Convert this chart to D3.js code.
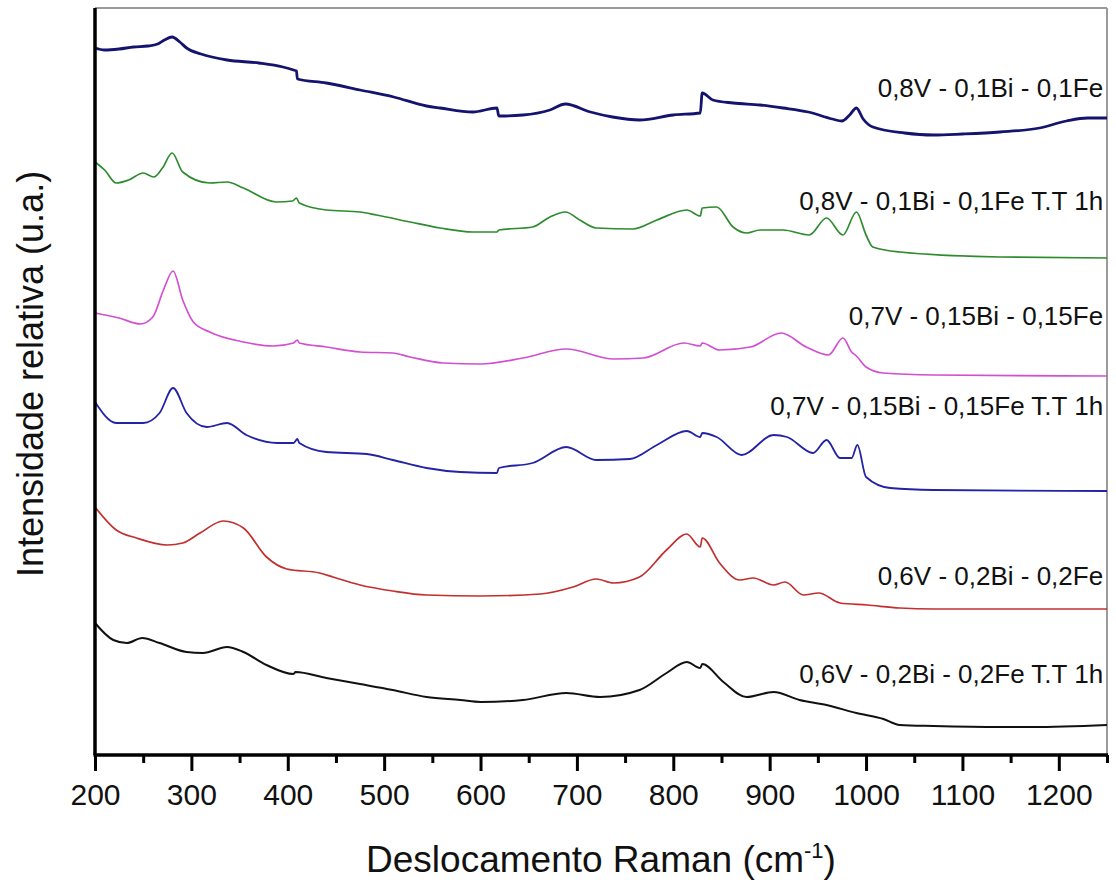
<!DOCTYPE html>
<html>
<head>
<meta charset="utf-8">
<script src="https://cdn.jsdelivr.net/npm/d3@7"></script>
<style>
  body { margin: 0; background: #fff; }
  text { font-family: "Liberation Sans", Arial, sans-serif; }
</style>
</head>
<body>
<svg id="chart" width="1116" height="882"></svg>
<script>
// Raman spectra, [wavenumber, intensity (a.u., stacked offset)]
var v08 = [[200,707],[210,705],[225,706],[240,708],[255,709],[265,711],[272,715],[280,718],[288,713],[295,707],[310,701],[337,695],[370,692],[395,688],[406,685],[409,684],[410,676],[440,672],[475,665],[510,658],[544,649],[558,647],[592,643],[617,647],[619,639],[644,640],[672,645],[688,651],[714,643],[737,638],[765,635],[800,640],[828,642],[830,662],[841,655],[862,652],[890,650],[914,647],[940,643],[965,636],[975,634],[983,640],[990,647],[997,636],[1007,628],[1040,622],[1070,620],[1100,621],[1139,623],[1180,627],[1208,634],[1230,637],[1250,637]];
var v08tt = [[200,593],[210,585],[222,572],[235,575],[250,582],[261,578],[270,587],[280,602],[291,583],[319,572],[337,573],[354,567],[388,553],[405,554],[409,557],[412,552],[440,545],[475,543],[492,540],[527,533],[558,527],[592,523],[617,523],[619,525],[654,528],[672,538],[688,543],[703,535],[720,527],[758,526],[783,535],[814,545],[828,539],[830,547],[845,548],[862,528],[876,522],[890,525],[914,525],[941,520],[959,537],[976,520],[990,543],[1000,520],[1007,508],[1035,503],[1139,498],[1250,497]];
var v07 = [[200,442],[225,437],[247,431],[260,438],[271,465],[281,484],[291,455],[302,433],[319,423],[354,413],[385,409],[406,412],[410,415],[412,412],[440,408],[475,403],[509,402],[527,398],[561,392],[600,391],[644,397],[689,406],[738,396],[769,397],[811,412],[828,409],[830,412],[848,405],[880,408],[912,422],[938,408],[961,400],[976,417],[985,403],[990,399],[1000,388],[1018,382],[1070,380],[1250,379]];
var v07tt = [[200,353],[222,332],[250,332],[267,342],[281,367],[295,342],[316,328],[337,332],[357,320],[389,312],[406,312],[410,316],[412,312],[440,303],[482,301],[509,295],[544,287],[579,283],[617,282],[619,287],[654,292],[689,308],[720,295],[755,296],[783,310],[814,324],[828,318],[830,322],[845,318],[871,300],[904,320],[918,318],[945,302],[959,315],[973,297],[985,297],[991,310],[1000,278],[1025,267],[1070,265],[1250,264]];
var v06 = [[200,248],[222,225],[243,217],[275,210],[291,212],[309,222],[333,234],[354,227],[378,198],[399,186],[433,182],[447,178],[475,170],[509,164],[544,160],[600,159],[662,161],[696,168],[720,176],[738,172],[765,178],[793,205],[814,221],[828,208],[830,217],[848,192],[869,175],[883,177],[904,170],[916,173],[935,160],[951,162],[973,152],[1001,150],[1035,147],[1070,146],[1250,146]];
var v06tt = [[200,132],[219,115],[233,112],[249,117],[267,112],[295,103],[312,102],[337,108],[354,103],[378,90],[406,81],[408,83],[440,77],[475,71],[509,65],[544,58],[579,55],[600,53],[644,55],[689,62],[724,58],[765,65],[793,82],[814,93],[828,87],[830,91],[852,73],[876,58],[904,63],[931,55],[959,50],[990,42],[1018,36],[1035,30],[1070,29],[1139,28],[1173,28],[1250,30]];

var seriesNames = ["0,8V - 0,1Bi - 0,1Fe", "0,8V - 0,1Bi - 0,1Fe T.T 1h", "0,7V - 0,15Bi - 0,15Fe",
                   "0,7V - 0,15Bi - 0,15Fe T.T 1h", "0,6V - 0,2Bi - 0,2Fe", "0,6V - 0,2Bi - 0,2Fe T.T 1h"];
var seriesColors = ["#14146e", "#2e8b2e", "#d24fd2", "#2323a6", "#c22f2f", "#111111"];
// label baseline positions (intensity units)
var labelLevels = [658, 545, 430, 340, 170, 72];
var xTicks = [200, 300, 400, 500, 600, 700, 800, 900, 1000, 1100, 1200];
var xMinorTicks = [250, 350, 450, 550, 650, 750, 850, 950, 1050, 1150, 1250];

var allData = [v08, v08tt, v07, v07tt, v06, v06tt];

var margin = {top: 8, right: 9, bottom: 127, left: 95};
var width = 1116, height = 882;
var chartW = width - margin.left - margin.right;
var chartH = height - margin.top - margin.bottom;

var svg = d3.select("#chart");

var x = d3.scaleLinear().domain([200, 1250]).range([margin.left, margin.left + chartW]);
var y = d3.scaleLinear().domain([0, 747]).range([margin.top + chartH, margin.top]);

// top and right frame (thin grey)
svg.append("line")
  .attr("x1", margin.left).attr("x2", margin.left + chartW)
  .attr("y1", margin.top).attr("y2", margin.top)
  .attr("stroke", "#9a9a9a").attr("stroke-width", 2);
svg.append("line")
  .attr("x1", margin.left + chartW).attr("x2", margin.left + chartW)
  .attr("y1", margin.top).attr("y2", margin.top + chartH)
  .attr("stroke", "#9a9a9a").attr("stroke-width", 2);

var line = d3.line()
  .x(function(d) { return x(d[0]); })
  .y(function(d) { return y(d[1]); })
  .curve(d3.curveMonotoneX);

// noisy traces drawn a bit heavier
var widths = [2.8, 1.7, 1.7, 1.8, 1.7, 2];

svg.append("g").selectAll("path")
  .data(allData)
  .enter().append("path")
  .attr("d", line)
  .attr("fill", "none")
  .attr("stroke", function(d, i) { return seriesColors[i]; })
  .attr("stroke-width", function(d, i) { return widths[i]; })
  .attr("stroke-linejoin", "round");

svg.append("g").selectAll("text")
  .data(seriesNames)
  .enter().append("text")
  .attr("x", x(1246))
  .attr("y", function(d, i) { return y(labelLevels[i]); })
  .attr("text-anchor", "end")
  .attr("font-size", 26)
  .attr("fill", "#111")
  .text(function(d) { return d; });

// x axis
var xAxis = d3.axisBottom(x).tickValues(xTicks).tickSize(16).tickPadding(13)
  .tickFormat(d3.format("d"));
var gx = svg.append("g")
  .attr("transform", "translate(0," + (margin.top + chartH) + ")")
  .call(xAxis);
gx.select(".domain").remove();
gx.selectAll(".tick line").attr("stroke", "#000").attr("stroke-width", 3);
gx.selectAll(".tick text").attr("font-size", 30).attr("fill", "#111")
  .style("font-family", "'Liberation Sans', Arial, sans-serif");

var gxm = svg.append("g")
  .attr("transform", "translate(0," + (margin.top + chartH) + ")")
  .call(d3.axisBottom(x).tickValues(xMinorTicks).tickSize(8).tickFormat(""));
gxm.select(".domain").remove();
gxm.selectAll(".tick line").attr("stroke", "#000").attr("stroke-width", 3);

// axis lines
svg.append("line")
  .attr("x1", margin.left - 1.5).attr("x2", margin.left + chartW + 1)
  .attr("y1", margin.top + chartH).attr("y2", margin.top + chartH)
  .attr("stroke", "#000").attr("stroke-width", 3.5);
svg.append("line")
  .attr("x1", margin.left).attr("x2", margin.left)
  .attr("y1", margin.top).attr("y2", margin.top + chartH)
  .attr("stroke", "#000").attr("stroke-width", 3.5);

// axis titles
var xt = svg.append("text")
  .attr("x", margin.left + chartW / 2)
  .attr("y", 872)
  .attr("text-anchor", "middle")
  .attr("font-size", 37)
  .attr("fill", "#111");
xt.append("tspan").text("Deslocamento Raman (cm");
xt.append("tspan").attr("dy", -14).attr("font-size", 22).text("-1");
xt.append("tspan").attr("dy", 14).text(")");

svg.append("text")
  .attr("transform", "translate(43,374) rotate(-90)")
  .attr("text-anchor", "middle")
  .attr("font-size", 36)
  .attr("fill", "#111")
  .text("Intensidade relativa (u.a.)");
</script>
</body>
</html>
